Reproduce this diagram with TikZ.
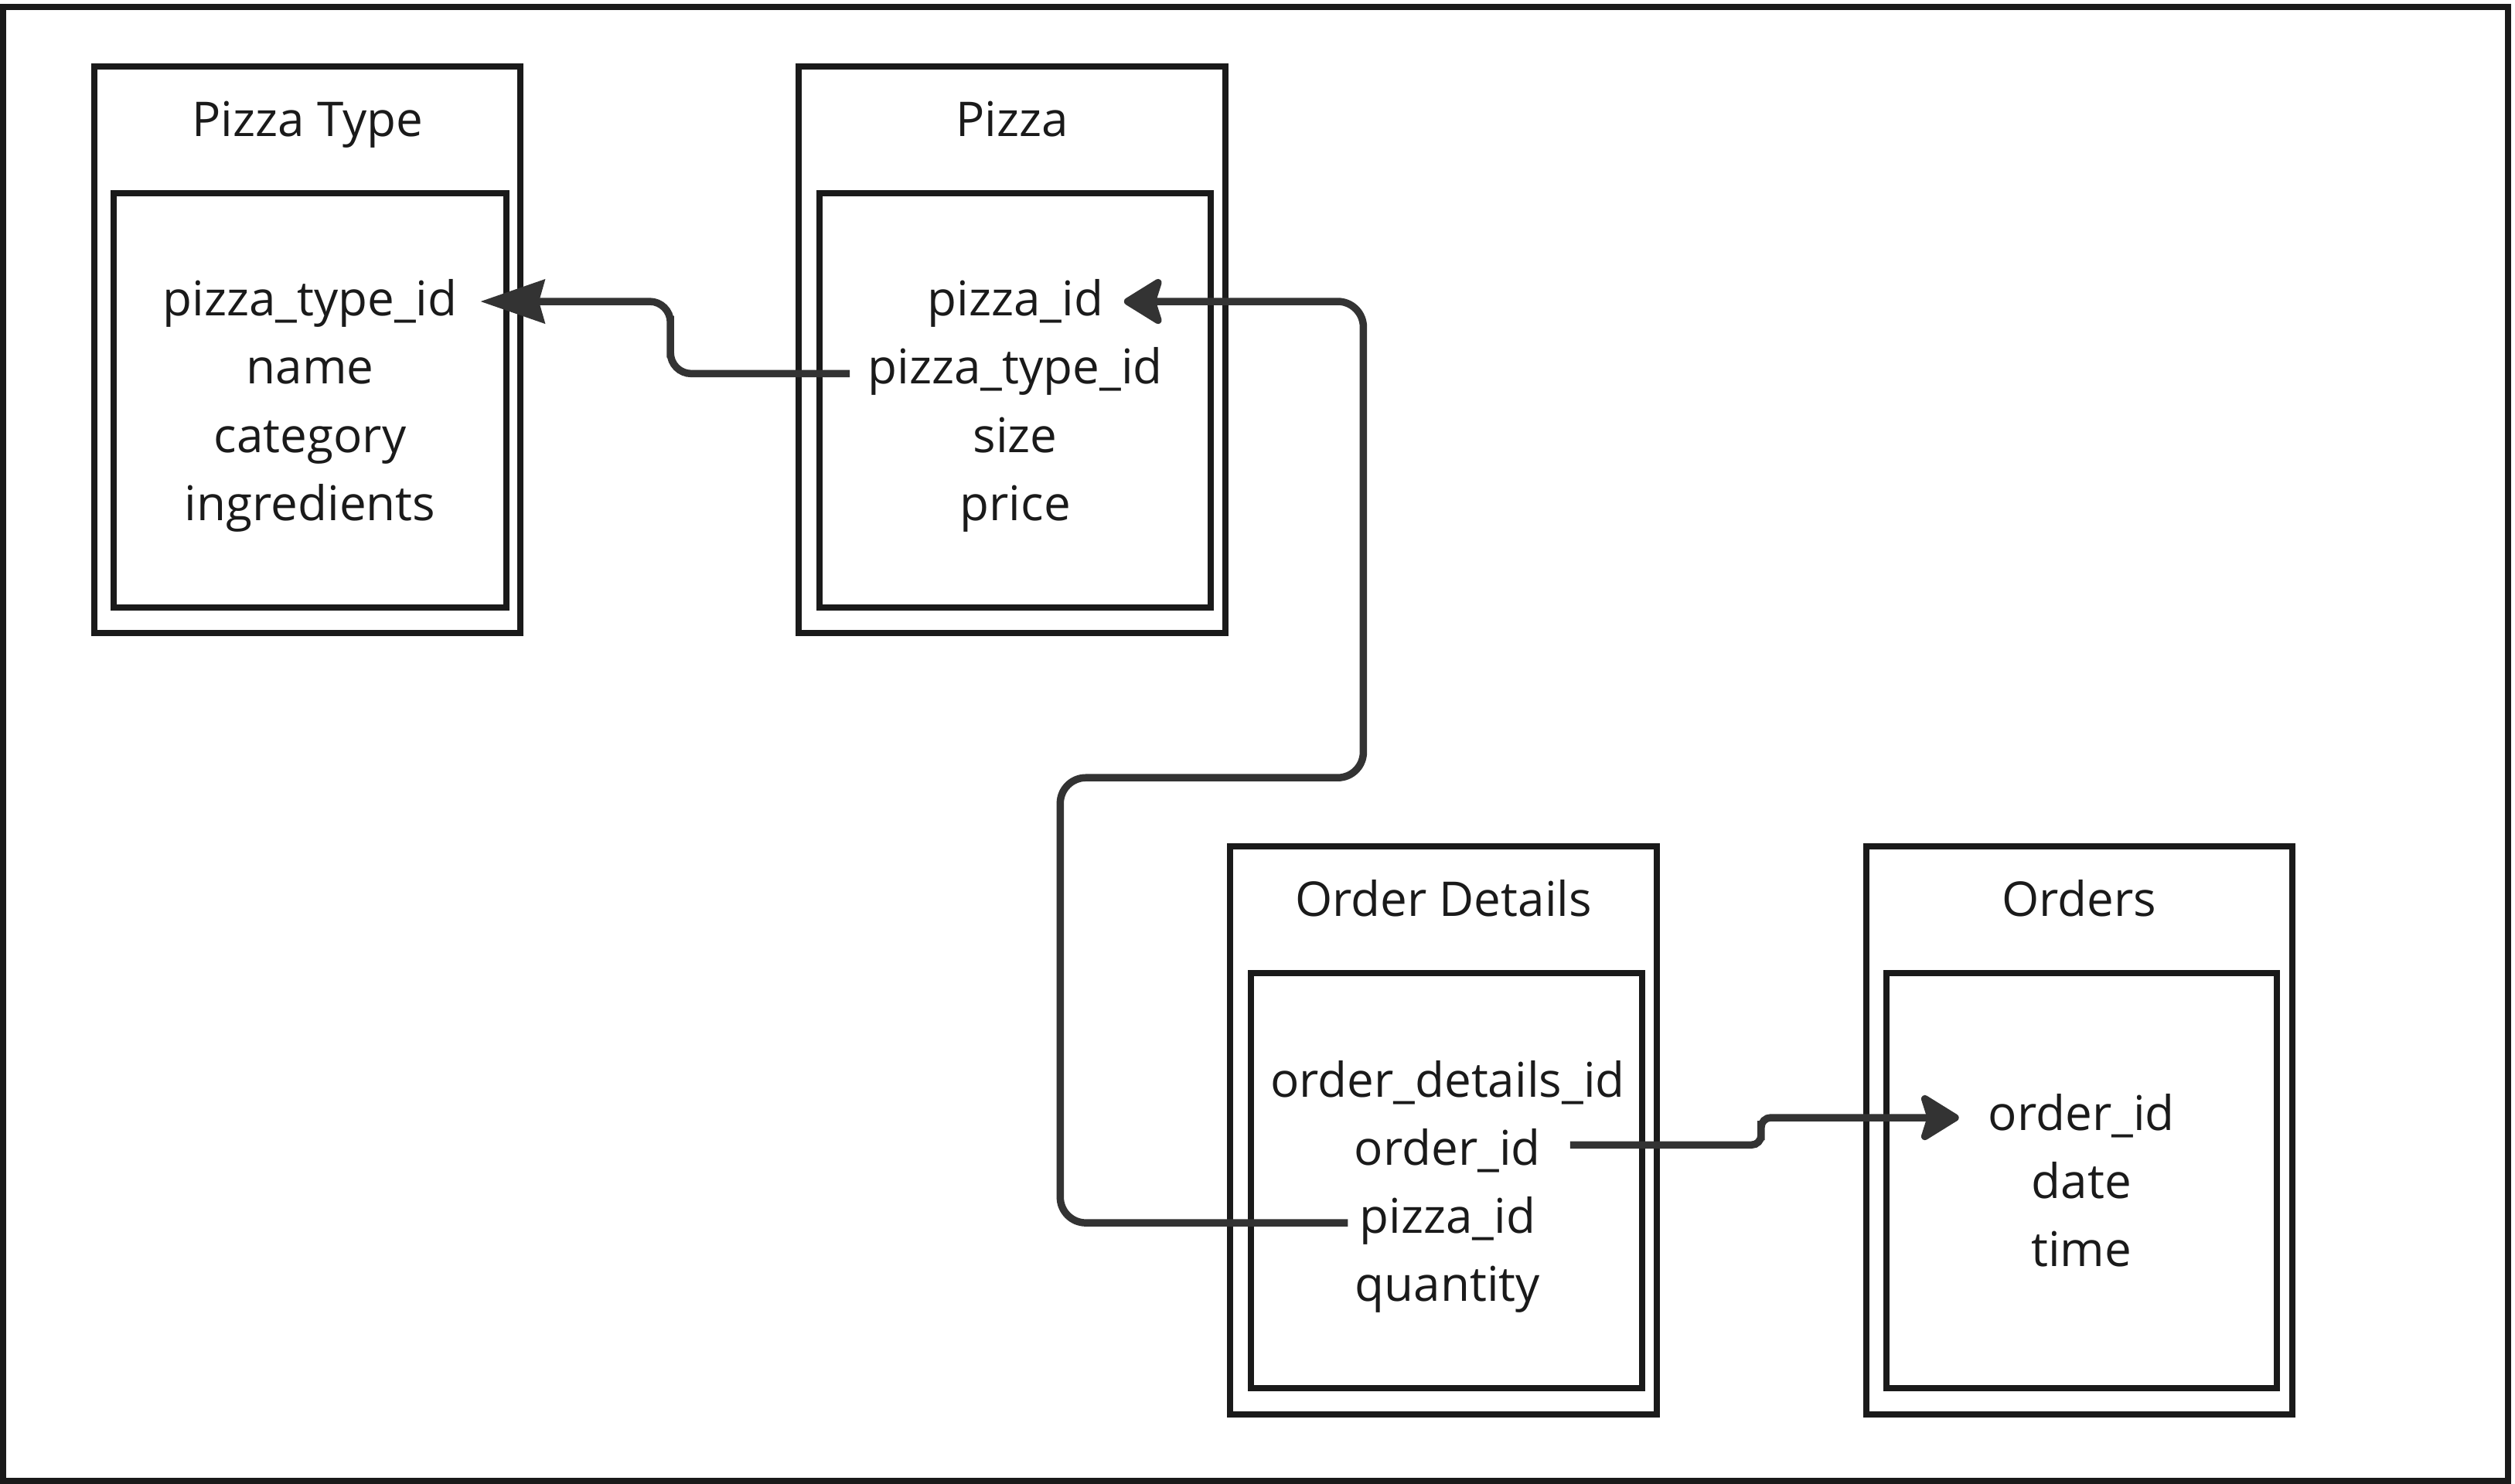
\documentclass[tikz,border=0pt]{standalone}
\usepackage{fontspec}
\setmainfont{Open Sans}
\usetikzlibrary{arrows.meta,fit,calc}
\definecolor{ink}{HTML}{1A1A1A}
\definecolor{wire}{HTML}{333333}
\begin{document}
\begin{tikzpicture}[x=0.02cm,y=-0.02cm,
  frame/.style={draw=ink, line width=2.2pt},
  tablebox/.style={draw=ink, line width=2.2pt, inner sep=0pt},
  title/.style={font=\fontsize{17}{20}\selectfont, text=ink, anchor=base, inner sep=0pt},
  field/.style={font=\fontsize{17}{20}\selectfont, text=ink, anchor=base, inner sep=0pt},
  conn/.style={draw=wire, line width=2.6pt},
  sharptip/.style={-{Stealth[length=0.8cm, width=0.54cm, inset=0.07cm]}},
  roundtip/.style={-{Stealth[length=0.54cm, width=0.66cm, inset=0.1cm, round]}}
]
\useasboundingbox (0,0) rectangle (1568,925.45);
\node[frame, fit={(2,4.3) (1563.6,923.5)}, inner sep=0pt] (frame) {};

% Pizza Type
\node[tablebox, fit={(59,41.5) (324.6,395)}] (ptout) {};
\node[tablebox, fit={(71,120.5) (315.5,379)}] (ptin) {};
\node[title] (pttitle) at (191.8,85) {Pizza Type};
\node[field] (pt1) at (193.3,197) {pizza\_type\_id};
\node[field] (pt2) at (193.3,239.5) {name};
\node[field] (pt3) at (193.3,282) {category};
\node[field] (pt4) at (193.3,324.5) {ingredients};

% Pizza
\node[tablebox, fit={(498,41.5) (764,395)}] (pout) {};
\node[tablebox, fit={(511,120.5) (755,379)}] (pin) {};
\node[title] (ptitle) at (631,85) {Pizza};
\node[field] (p1) at (633,197) {pizza\_id};
\node[field] (p2) at (633,239.5) {pizza\_type\_id};
\node[field] (p3) at (633,282) {size};
\node[field] (p4) at (633,324.5) {price};

% Order Details
\node[tablebox, fit={(767,528) (1033,882)}] (odout) {};
\node[tablebox, fit={(780,607) (1024,865.7)}] (odin) {};
\node[title] (odtitle) at (900,571.5) {Order Details};
\node[field] (od1) at (902.5,684) {order\_details\_id};
\node[field] (od2) at (902.5,726.5) {order\_id};
\node[field] (od3) at (902.5,769) {pizza\_id};
\node[field] (od4) at (902.5,811.5) {quantity};

% Orders
\node[tablebox, fit={(1163.6,528) (1429,882)}] (oout) {};
\node[tablebox, fit={(1176,607) (1419.5,865.7)}] (oin) {};
\node[title] (otitle) at (1296.3,571.5) {Orders};
\node[field] (o1) at (1297.7,705) {order\_id};
\node[field] (o2) at (1297.7,747.5) {date};
\node[field] (o3) at (1297.7,790) {time};

% connectors
\draw[conn, sharptip, rounded corners=0.26cm]
  ($(p2.base west)+(-11,-6.5)$) -| (418,210) |- ($(pt1.base east)+(14,-9)$);
\draw[conn, roundtip, rounded corners=0.32cm]
  ($(od3.base west)+(-7,-6.4)$) -| (661,485) -- (850,485) |- ($(p1.base east)+(12.6,-9)$);
\draw[conn, roundtip, rounded corners=0.12cm]
  ($(od2.base east)+(18,-12.5)$) -| (1098,705) |- ($(o1.base west)+(-18,-8)$);
\end{tikzpicture}
\end{document}
